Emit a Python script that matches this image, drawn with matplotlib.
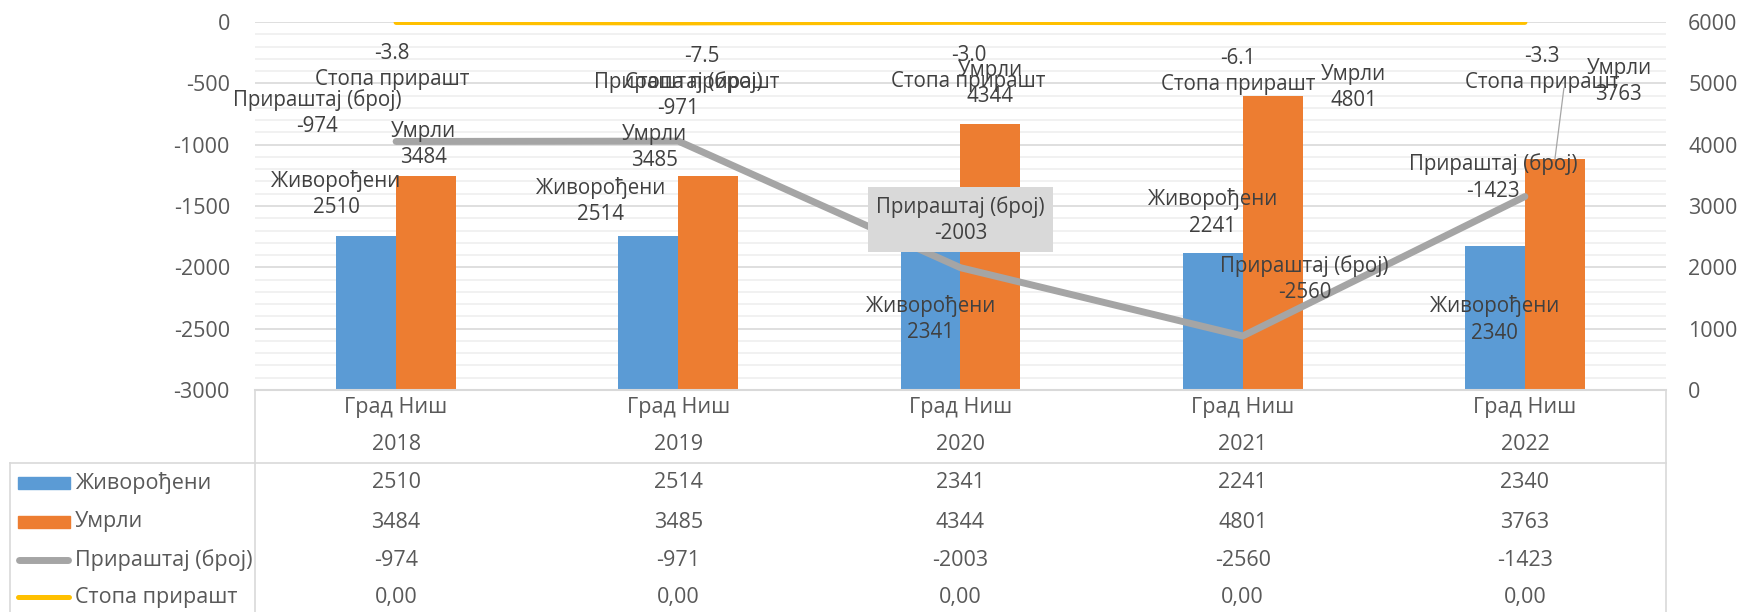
import numpy as np
import matplotlib
matplotlib.use('Agg')
import matplotlib.pyplot as plt
from matplotlib.ticker import MultipleLocator
from matplotlib.transforms import blended_transform_factory
from matplotlib.lines import Line2D
from matplotlib.patches import Rectangle

plt.rcParams['font.family'] = ['Open Sans', 'DejaVu Sans']
plt.rcParams['axes.unicode_minus'] = False

# Подаци
region = 'Град Ниш'
years = ['2018', '2019', '2020', '2021', '2022']
births = [2510, 2514, 2341, 2241, 2340]
deaths = [3484, 3485, 4344, 4801, 3763]
increase = [-974, -971, -2003, -2560, -1423]
rate = [-3.8, -7.5, -3.0, -6.1, -3.3]
rate_table = ['0,00', '0,00', '0,00', '0,00', '0,00']
names = ['Живорођени', 'Умрли', 'Прираштај (број)', 'Стопа прирашт']

c_blue, c_orange, c_gray, c_yellow = '#5B9BD5', '#ED7D31', '#A5A5A5', '#FFC000'
c_text, c_axis, c_grid = '#404040', '#595959', '#D9D9D9'
fs = 14.8      # ознаке података
fs_t = 15.5    # табела и осе

W, H = 1740, 612
fig = plt.figure(figsize=(W / 100, H / 100), dpi=100)
ax = fig.add_axes([255 / W, 1 - 390 / H, (1666 - 255) / W, (390 - 22) / H])

# Стубићи (десна оса)
x = np.arange(len(years))
w = 0.2126
ax.bar(x - w / 2, births, w, color=c_blue, zorder=2)
ax.bar(x + w / 2, deaths, w, color=c_orange, zorder=2)
ax.set_xlim(-0.5, len(years) - 0.5)
ax.set_ylim(0, 6000)
ax.yaxis.set_major_locator(MultipleLocator(1000))
ax.yaxis.set_minor_locator(MultipleLocator(200))
ax.grid(which='major', axis='y', color=c_grid, lw=1.2)
ax.grid(which='minor', axis='y', color='#EFEFEF', lw=1.2)
ax.set_axisbelow(True)
ax.set_xticks([])
for s in ['top', 'left', 'right']:
    ax.spines[s].set_visible(False)
ax.spines['bottom'].set_color(c_grid)
ax.spines['bottom'].set_linewidth(1.5)

# Линије (лева оса)
ax2 = ax.twinx()
ax.yaxis.tick_right()
ax.tick_params(axis='y', which='both', length=0, labelsize=fs_t, labelcolor=c_axis, pad=16)
ax2.yaxis.tick_left()
ax2.set_ylim(-3000, 0)
ax2.yaxis.set_major_locator(MultipleLocator(500))
ax2.tick_params(axis='y', length=0, labelsize=fs_t, labelcolor=c_axis, pad=18)
for s in ax2.spines.values():
    s.set_visible(False)
ax2.plot(x, increase, color=c_gray, lw=5, solid_capstyle='round', solid_joinstyle='round')
ax2.plot(x, rate, color=c_yellow, lw=3.6, solid_capstyle='round')


def label(src, xv, yv, text, dx, dy, **kw):
    ax2.annotate(text, xy=(xv, yv), xycoords=src.transData, xytext=(dx, dy),
                 textcoords='offset pixels', ha='center', va='center', fontsize=fs,
                 color=c_text, linespacing=1.32, annotation_clip=False, **kw)


# Ознаке података
rate_dx, rate_dy = [-4, 24, 8, -5, 17], [-44, -47, -46, -49, -47]
inc_dx, inc_dy = [-79, 0, 0, 62, -32], [28, 46, 48, 57, 19]
b_dx, b_dy = [-30, -48, 0, 0, 0], [42, 35, -73, 40, -73]
d_dx, d_dy = [-3, -54, 0, 81, 64], [32, 29, 40, 8, 78]

for i in range(len(years)):
    label(ax2, x[i], rate[i], f'{rate[i]:.1f}\n{names[3]}', rate_dx[i], rate_dy[i])
    box = dict(boxstyle='square,pad=0.42', fc='#D9D9D9', ec='none') if i == 2 else None
    label(ax2, x[i], increase[i], f'{names[2]}\n{increase[i]}', inc_dx[i], inc_dy[i], bbox=box)
    label(ax, x[i] - w / 2, births[i], f'{names[0]}\n{births[i]}', b_dx[i], b_dy[i])
    label(ax, x[i] + w / 2, deaths[i], f'{names[1]}\n{deaths[i]}', d_dx[i], d_dy[i])

# водећа линија за ознаку „Умрли“ 2022
ax2.annotate('', xy=(x[4] + w / 2, deaths[4]), xycoords=ax.transData, xytext=(9, 71),
             textcoords='offset pixels', annotation_clip=False,
             arrowprops=dict(arrowstyle='-', color='#A6A6A6', lw=0.9, shrinkA=0, shrinkB=0))

# Табела података
tr = blended_transform_factory(ax.transData, fig.transFigure)
rows_y = [483, 522, 560, 597]
row_vals = [[str(v) for v in births], [str(v) for v in deaths],
            [str(v) for v in increase], rate_table]
for i in range(len(years)):
    fig.text(x[i], 1 - 408 / H, region, transform=tr, ha='center', va='center',
             fontsize=fs_t, color=c_axis)
    fig.text(x[i], 1 - 445 / H, years[i], transform=tr, ha='center', va='center',
             fontsize=fs_t, color=c_axis)
    for r, vals in enumerate(row_vals):
        fig.text(x[i], 1 - rows_y[r] / H, vals[i], transform=tr, ha='center', va='center',
                 fontsize=fs_t, color=c_axis)

for r, name in enumerate(names):
    fig.text(75 / W, 1 - rows_y[r] / H, name, ha='left', va='center', fontsize=fs_t,
             color=c_axis)

fig.add_artist(Line2D([255 / W, 255 / W], [1 - 390 / H, 0], color=c_grid, lw=1.2))
fig.add_artist(Line2D([1666 / W, 1666 / W], [1 - 390 / H, 0], color=c_grid, lw=1.2))
fig.add_artist(Line2D([10 / W, 1666 / W], [1 - 463 / H] * 2, color=c_grid, lw=1.2))
fig.add_artist(Line2D([10 / W, 10 / W], [1 - 463 / H, 0], color=c_grid, lw=1.2))

# Кључеви легенде
fig.add_artist(Rectangle((18 / W, 1 - 489 / H), 52 / W, 12 / H, color=c_blue,
                         transform=fig.transFigure))
fig.add_artist(Rectangle((18 / W, 1 - 528 / H), 52 / W, 12 / H, color=c_orange,
                         transform=fig.transFigure))
fig.add_artist(Line2D([19 / W, 68 / W], [1 - 560 / H] * 2, color=c_gray, lw=5,
                      solid_capstyle='round'))
fig.add_artist(Line2D([18 / W, 69 / W], [1 - 597 / H] * 2, color=c_yellow, lw=3.6,
                      solid_capstyle='round'))

fig.savefig('out.png', dpi=100)
